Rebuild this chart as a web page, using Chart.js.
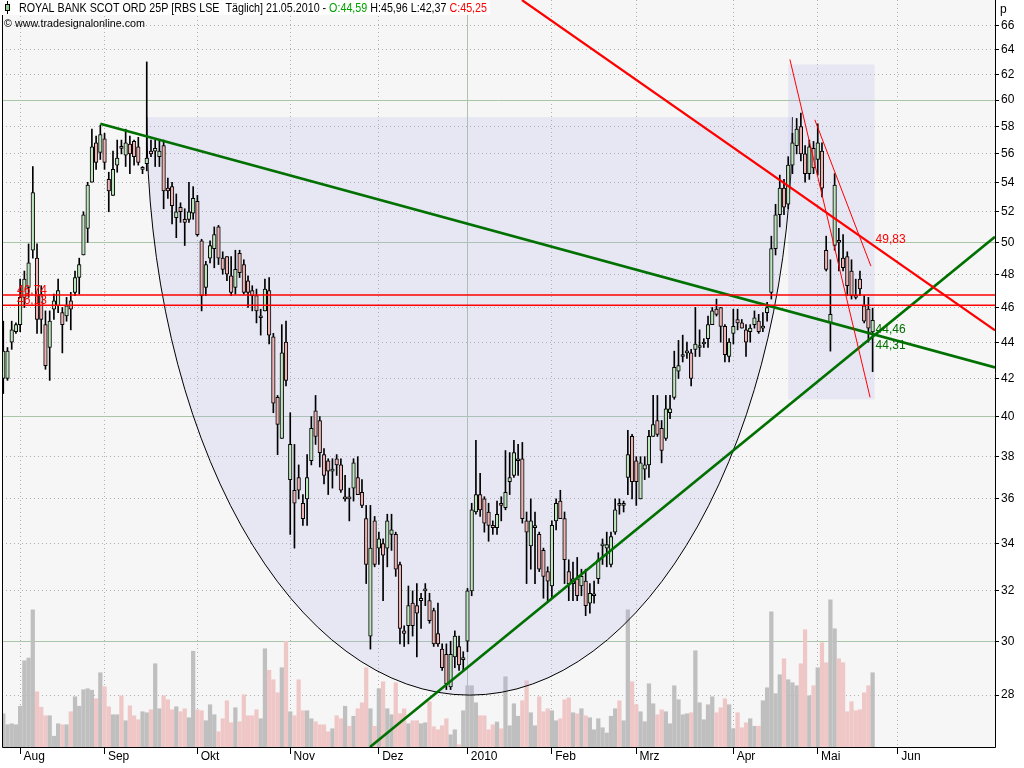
<!DOCTYPE html>
<html>
<head>
<meta charset="utf-8">
<script src="https://cdn.jsdelivr.net/npm/chart.js@4.4.1/dist/chart.umd.min.js"></script>
<style>
  html, body { margin: 0; padding: 0; background: #fff; overflow: hidden; }
</style>
</head>
<body>
<canvas id="chart" width="1024" height="768"></canvas>
<script>
// daily candles, 28.07.2009 .. 21.05.2010 (index = trading day)
const openP = [
  42.0, 42.0, 44.0, 44.6, 45.0, 46.6, 47.2, 49.5, 49.0, 46.8,
  45.0, 43.7, 45.9, 46.1, 45.7, 45.5, 46.4, 46.9, 47.8, 49.2,
  50.9, 54.0, 56.8, 56.1, 57.1, 54.2, 53.1, 55.2, 56.5, 55.9,
  56.7, 56.9, 56.5, 54.9, 55.3, 56.2, 56.2, 55.8, 56.6, 53.6,
  53.7, 51.6, 52.3, 51.5, 51.5, 51.9, 52.7, 50.1, 47.2, 49.0,
  49.6, 51.0, 49.0, 49.1, 47.9, 47.2, 49.3, 48.6, 47.6, 47.0,
  46.7, 45.4, 45.8, 47.0, 44.3, 41.0, 38.9, 44.0, 36.9, 36.4,
  37.0, 35.8, 36.0, 37.8, 40.3, 39.8, 38.1, 37.8, 37.3, 37.9,
  37.6, 36.0, 36.1, 36.5, 37.0, 36.3, 35.1, 30.2, 35.0, 33.8,
  34.0, 33.8, 34.4, 34.4, 33.1, 30.4, 30.6, 31.5, 31.4, 31.6,
  32.0, 31.6, 31.2, 30.3, 29.7, 29.5, 28.3, 29.4, 29.8, 29.3,
  30.0, 32.0, 35.4, 36.2, 36.0, 35.4, 34.8, 34.7, 35.8, 35.6,
  36.8, 37.1, 37.8, 37.9, 35.0, 33.9, 34.7, 34.4, 33.7, 32.8,
  32.2, 35.0, 35.9, 35.1, 32.8, 32.3, 32.5, 32.2, 32.4, 31.5,
  31.8, 32.5, 33.9, 33.8, 33.1, 34.5, 35.8, 35.7, 37.0, 39.0,
  37.8, 36.0, 37.4, 37.6, 39.0, 39.8, 39.4, 38.9, 40.2, 41.0,
  42.4, 43.2, 43.4, 43.4, 43.6, 43.7, 43.9, 44.2, 45.0, 45.9,
  46.0, 44.9, 43.2, 44.5, 45.3, 45.1, 44.7, 44.6, 45.0, 45.2,
  44.8, 45.7, 46.9, 49.6, 51.8, 53.6, 52.5, 55.2, 56.6, 58.0,
  56.0, 54.6, 56.4, 55.6, 56.2, 49.5, 45.1, 49.8, 50.1, 49.0,
  49.1, 48.2, 46.7, 47.7, 46.1, 45.9, 44.59
];
const highP = [
  45.2, 43.7, 45.2, 45.1, 47.7, 48.2, 49.9, 55.1, 49.9, 47.3,
  45.8, 45.8, 46.8, 47.7, 46.0, 46.6, 46.9, 48.2, 49.0, 52.0,
  54.0, 57.8, 57.3, 58.1, 57.5, 54.7, 56.2, 57.0, 57.0, 57.8,
  57.3, 57.0, 57.2, 55.1, 63.0, 57.0, 57.0, 57.0, 57.0, 54.3,
  54.0, 53.2, 52.6, 52.2, 54.0, 53.7, 53.1, 50.2, 48.8, 50.1,
  51.0, 51.1, 49.4, 49.1, 49.1, 49.5, 49.5, 48.9, 47.9, 47.3,
  47.1, 45.9, 47.7, 47.8, 44.5, 41.1, 45.0, 45.2, 40.2, 38.6,
  37.6, 36.2, 38.1, 40.0, 41.1, 40.0, 38.4, 37.9, 37.9, 38.1,
  37.9, 37.1, 36.5, 37.9, 38.0, 36.9, 35.7, 35.7, 35.2, 34.5,
  34.2, 35.3, 35.3, 34.5, 33.2, 30.6, 32.2, 32.0, 32.3, 31.9,
  32.3, 31.9, 31.3, 31.5, 29.9, 29.9, 30.0, 30.4, 30.2, 29.6,
  32.1, 35.8, 38.8, 37.2, 36.1, 35.8, 35.0, 35.9, 36.1, 38.3,
  38.2, 38.8, 38.6, 38.7, 35.4, 36.0, 35.4, 34.5, 33.8, 33.0,
  35.0, 36.0, 36.4, 35.4, 33.3, 33.2, 33.4, 32.9, 32.9, 32.3,
  32.4, 33.6, 34.2, 34.5, 34.5, 36.0, 36.0, 35.9, 39.3, 39.1,
  38.0, 38.0, 38.0, 39.3, 41.1, 41.1, 39.8, 41.1, 41.1, 43.5,
  44.1, 44.4, 44.0, 43.6, 46.0, 44.7, 44.2, 45.5, 46.0, 46.5,
  46.0, 45.0, 44.2, 45.9, 45.9, 45.3, 45.0, 45.0, 45.8, 45.6,
  45.7, 46.3, 50.4, 52.5, 54.5, 54.2, 55.8, 57.5, 58.6, 59.0,
  56.6, 57.0, 56.9, 58.2, 56.8, 50.4, 48.9, 54.6, 50.9, 50.5,
  49.4, 48.9, 47.7, 48.2, 46.7, 46.6, 45.96
];
const lowP = [
  41.2, 41.9, 43.6, 44.5, 44.6, 46.0, 46.6, 49.0, 44.5, 44.5,
  42.5, 41.9, 45.3, 45.7, 43.4, 45.2, 44.7, 46.7, 46.8, 49.2,
  50.0, 54.0, 54.9, 55.6, 54.9, 52.0, 53.1, 54.7, 56.0, 55.1,
  54.6, 55.2, 55.2, 54.6, 54.8, 55.8, 55.1, 55.1, 52.2, 52.9,
  51.2, 50.3, 51.3, 49.8, 51.3, 51.5, 50.4, 45.8, 46.7, 48.7,
  48.4, 48.6, 48.0, 47.6, 46.7, 46.8, 47.8, 46.8, 46.0, 45.8,
  45.1, 44.4, 45.8, 43.9, 40.2, 38.1, 38.9, 41.6, 34.4, 33.8,
  36.0, 34.8, 34.8, 37.6, 38.6, 37.5, 36.7, 36.2, 36.5, 37.1,
  36.3, 35.9, 35.0, 35.9, 36.2, 35.6, 32.3, 29.7, 33.0, 33.1,
  31.6, 33.0, 33.7, 32.6, 29.9, 29.8, 29.9, 30.2, 29.4, 30.5,
  31.4, 30.7, 29.8, 29.8, 28.9, 28.2, 28.2, 29.0, 28.9, 28.9,
  29.6, 31.8, 35.3, 35.2, 34.5, 34.1, 34.4, 34.4, 35.0, 35.5,
  36.2, 37.0, 37.1, 34.9, 32.3, 32.9, 32.3, 32.8, 31.7, 31.6,
  31.7, 34.6, 35.1, 32.3, 31.6, 31.6, 31.6, 31.8, 31.0, 31.1,
  31.5, 32.3, 33.1, 33.0, 33.0, 34.4, 35.3, 35.4, 36.2, 36.0,
  35.7, 36.0, 36.9, 37.0, 39.0, 39.0, 37.7, 38.8, 39.9, 40.9,
  42.0, 42.9, 43.1, 41.6, 43.2, 43.2, 43.7, 43.7, 45.0, 45.5,
  44.0, 42.9, 42.9, 43.9, 44.7, 44.8, 43.2, 44.0, 44.8, 44.5,
  44.6, 45.2, 46.5, 49.2, 51.0, 51.8, 52.2, 54.6, 56.0, 55.5,
  54.0, 54.2, 54.6, 54.5, 53.0, 48.2, 43.5, 49.5, 48.2, 48.2,
  46.7, 46.5, 46.5, 46.7, 45.1, 44.0, 42.37
];
const closeP = [
  43.5, 43.5, 44.7, 45.0, 46.6, 47.7, 48.7, 53.3, 45.3, 45.3,
  42.7, 45.2, 46.4, 47.0, 45.0, 46.1, 45.9, 47.8, 48.6, 51.8,
  53.8, 56.5, 55.4, 57.4, 55.4, 53.4, 54.9, 55.7, 56.4, 56.8,
  56.0, 55.8, 55.4, 54.9, 55.7, 56.0, 56.4, 56.2, 53.4, 53.4,
  52.4, 52.0, 52.0, 51.3, 52.0, 52.9, 50.5, 46.7, 48.6, 49.8,
  50.5, 49.0, 48.3, 48.0, 46.9, 48.3, 48.1, 46.9, 46.9, 46.7,
  45.8, 45.5, 47.1, 44.4, 40.7, 39.6, 43.4, 41.9, 38.6, 35.8,
  36.4, 35.1, 37.0, 39.4, 39.0, 38.2, 37.1, 37.3, 37.3, 37.6,
  36.4, 36.0, 36.0, 37.7, 36.2, 35.7, 33.1, 33.8, 33.1, 34.2,
  33.5, 35.0, 34.6, 32.9, 30.5, 30.3, 31.4, 30.6, 31.1, 31.7,
  32.0, 30.8, 29.9, 29.9, 29.0, 28.4, 29.5, 30.2, 29.1, 29.3,
  32.0, 35.5, 36.2, 35.5, 34.9, 34.8, 34.7, 35.3, 35.7, 36.3,
  37.0, 38.2, 37.8, 35.1, 34.5, 35.0, 34.7, 32.9, 32.6, 32.4,
  34.8, 35.8, 35.1, 33.3, 32.3, 32.5, 31.8, 32.6, 31.4, 31.9,
  31.8, 33.3, 33.9, 33.95, 34.3, 35.5, 35.7, 35.8, 38.1, 36.8,
  36.8, 37.7, 37.6, 39.0, 39.6, 39.1, 38.3, 40.4, 40.4, 42.6,
  42.7, 43.3, 43.5, 42.0, 43.9, 43.8, 44.0, 45.0, 45.8, 45.6,
  44.9, 43.3, 44.0, 44.9, 45.1, 44.8, 44.0, 44.8, 45.4, 44.6,
  44.9, 46.0, 49.6, 51.8, 53.6, 52.3, 55.2, 56.8, 57.8, 56.0,
  54.6, 56.5, 55.0, 56.8, 53.6, 48.3, 45.6, 53.8, 50.0, 48.4,
  47.3, 46.7, 46.6, 47.1, 45.2, 44.8, 45.25
];
// volume, million shares
const volume = [
  133, 89, 93, 89, 163, 345, 356, 549, 221, 159,
  125, 125, 43, 93, 89, 89, 141, 201, 163, 229,
  233, 227, 193, 297, 241, 161, 129, 129, 205, 105,
  165, 125, 109, 141, 137, 149, 333, 153, 205, 189,
  149, 161, 141, 153, 117, 383, 149, 145, 105, 169,
  129, 61, 113, 185, 97, 157, 101, 209, 125, 125,
  149, 113, 393, 307, 269, 217, 317, 423, 141, 125,
  269, 145, 145, 113, 101, 89, 89, 61, 73, 125,
  113, 163, 83, 123, 153, 177, 317, 153, 83, 233,
  261, 153, 129, 257, 133, 153, 93, 105, 105, 93,
  97, 181, 81, 69, 85, 113, 49, 69, 9, 145,
  245, 245, 177, 125, 125, 69, 89, 100, 73, 281,
  85, 173, 123, 185, 265, 137, 85, 201, 141, 153,
  145, 105, 113, 189, 197, 137, 133, 153, 125, 117,
  69, 113, 77, 56, 123, 153, 185, 105, 549, 261,
  169, 141, 101, 253, 173, 129, 149, 141, 93, 245,
  189, 129, 133, 137, 385, 177, 109, 169, 201, 137,
  157, 193, 169, 73, 137, 77, 97, 113, 83, 83,
  185, 237, 541, 213, 289, 353, 269, 257, 245, 333,
  469, 205, 245, 317, 417, 337, 589, 473, 353, 337,
  141, 181, 145, 149, 217, 245, 297
];

const monthLabels = ['Aug', 'Sep', 'Okt', 'Nov', 'Dez', '2010', 'Feb', 'Mrz', 'Apr', 'Mai', 'Jun'];
const monthStart = [4, 24, 46, 68, 89, 110, 130, 150, 173, 193, 212];
const priceTicks = [28, 30, 32, 34, 36, 38, 40, 42, 44, 46, 48, 50, 52, 54, 56, 58, 60, 62, 64, 66];

// drawing tools (index, price)
const greenFalling = [{x: 23, y: 58.2}, {x: 235, y: 42.6}];
const greenRising = [{x: 86.9, y: 26.2}, {x: 235, y: 50.36}];
const redFalling = [{x: 122.9, y: 68.2}, {x: 235, y: 44.67}];
const channelA = [{x: 186.4, y: 63.2}, {x: 205.4, y: 41.0}];
const channelB = [{x: 192.3, y: 58.5}, {x: 205.6, y: 48.5}];
const levels = [46.74, 46.13];
const levelLabels = ['46,74', '46,13'];
const lineLabels = ['49,83', '44,46', '44,31'];
const lineLabelPrices = [49.83, 44.46, 44.31];
// rounding bottom (half ellipse) and May box
const bowl = {from: 34, to: 187, rim: 58.7, bottom: 28.0};
const mayBox = {from: 186, to: 206, top: 62.8, bottom: 40.9};

const FONT = '"Liberation Sans", Arial, sans-serif';
const GREEN = '#007000';
const RED = '#ff0000';
const GRID_SOLID = '#a9c6a9';
const GRID_DOT = '#b0b0b0';

const idx = openP.map((_, i) => i);
const isUp = idx.map(i => closeP[i] >= openP[i]);

function hline(v) { return [{x: -5, y: v}, {x: 240, y: v}]; }
function lineSet(data, color, width) {
  return { type: 'line', data, borderColor: color, borderWidth: width, pointRadius: 0,
    yAxisID: 'y', order: 1, fill: false, tension: 0 };
}
// squeeze text horizontally to a given width (header font is a narrow one)
function fitText(ctx, parts, x, y, width) {
  let total = 0;
  parts.forEach(([t]) => { total += ctx.measureText(t).width; });
  const k = Math.min(1, width / total);
  ctx.save();
  ctx.translate(x, y);
  ctx.scale(k, 1);
  let cx = 0;
  parts.forEach(([t, c]) => {
    ctx.fillStyle = c;
    ctx.fillText(t, cx, 0);
    cx += ctx.measureText(t).width;
  });
  ctx.restore();
}

const decor = {
  id: 'decor',
  beforeDraw(chart) {
    const { ctx, chartArea: a } = chart;
    ctx.save();
    ctx.fillStyle = '#ffffff';
    ctx.fillRect(0, 0, chart.width, chart.height);
    ctx.fillStyle = '#f6f6f6';
    ctx.fillRect(a.left, a.top, a.right - a.left, a.bottom - a.top);
    ctx.restore();
  },
  afterDatasetDraw(chart, args) {
    if (args.index !== 0) return; // right after the volume bars
    const { ctx, chartArea: a } = chart;
    const xs = chart.scales.x, ys = chart.scales.y;
    ctx.save();
    ctx.beginPath();
    ctx.rect(a.left, a.top, a.right - a.left, a.bottom - a.top);
    ctx.clip();
    const x0 = xs.getPixelForValue(bowl.from), x1 = xs.getPixelForValue(bowl.to);
    const yr = ys.getPixelForValue(bowl.rim), yb = ys.getPixelForValue(bowl.bottom);
    ctx.fillStyle = 'rgba(176,176,236,0.22)';
    ctx.beginPath();
    ctx.ellipse((x0 + x1) / 2, yr, (x1 - x0) / 2, yb - yr, 0, 0, Math.PI);
    ctx.closePath();
    ctx.fill();
    ctx.strokeStyle = '#000';
    ctx.lineWidth = 1;
    ctx.beginPath();
    ctx.ellipse((x0 + x1) / 2, yr, (x1 - x0) / 2, yb - yr, 0, 0, Math.PI);
    ctx.stroke();
    const bx0 = xs.getPixelForValue(mayBox.from), bx1 = xs.getPixelForValue(mayBox.to) + 2;
    const by0 = ys.getPixelForValue(mayBox.top), by1 = ys.getPixelForValue(mayBox.bottom);
    ctx.fillRect(bx0, by0, bx1 - bx0, by1 - by0);
    ctx.restore();
  },
  afterDraw(chart) {
    const { ctx, chartArea: a } = chart;
    const xs = chart.scales.x, ys = chart.scales.y;
    ctx.save();
    // frame
    ctx.strokeStyle = '#000';
    ctx.lineWidth = 1;
    ctx.beginPath();
    ctx.moveTo(a.left + 0.5, a.top);
    ctx.lineTo(a.left + 0.5, a.bottom + 0.5);
    ctx.lineTo(a.right + 0.5, a.bottom + 0.5);
    ctx.lineTo(a.right + 0.5, a.top);
    ctx.stroke();

    // level labels, left
    ctx.font = '12px ' + FONT;
    ctx.fillStyle = RED;
    ctx.textBaseline = 'alphabetic';
    levels.forEach((v, i) => {
      ctx.fillText(levelLabels[i], a.left + 15, ys.getPixelForValue(v) - 1);
    });
    // line value labels at last bar
    const lx = xs.getPixelForValue(openP.length - 1) + 3;
    const offs = [-2, -1, 12];
    const cols = [RED, GREEN, GREEN];
    lineLabels.forEach((t, i) => {
      ctx.fillStyle = cols[i];
      ctx.fillText(t, lx, ys.getPixelForValue(lineLabelPrices[i]) + offs[i]);
    });

    // unit
    ctx.fillStyle = '#000';
    ctx.fillText('p', a.right + 5, 13);

    // header
    ctx.fillStyle = '#ffffff';
    ctx.fillRect(0, 0, 490, 15);
    ctx.fillStyle = '#000';
    ctx.fillRect(7, 1, 1, 13);
    ctx.fillRect(5, 4, 5, 7);
    ctx.fillStyle = '#8fd08f';
    ctx.fillRect(6, 5, 3, 5);
    ctx.font = '13px ' + FONT;
    fitText(ctx, [
      ['ROYAL BANK SCOT ORD 25P [RBS LSE  T\u00e4glich] 21.05.2010 - ', '#000'],
      ['O:44,59', '#00a000'],
      [' H:45,96 L:42,37 ', '#000'],
      ['C:45,25', RED]
    ], 19, 12, 468);
    ctx.font = '11px ' + FONT;
    fitText(ctx, [['\u00a9 www.tradesignalonline.com', '#000']], 4, 27, 141);
    ctx.restore();
  }
};

new Chart(document.getElementById('chart'), {
  type: 'bar',
  data: {
    datasets: [
      {
        label: 'Volumen',
        data: idx.map(i => ({ x: i, y: volume[i] })),
        yAxisID: 'yv',
        backgroundColor: idx.map(i => isUp[i] ? '#bfbfbf' : '#efc7c7'),
        barThickness: 3.6,
        grouped: false,
        order: 10
      },
      {
        label: 'Docht',
        data: idx.map(i => ({ x: i, y: [lowP[i], highP[i]] })),
        yAxisID: 'y',
        backgroundColor: '#000',
        barThickness: 1,
        grouped: false,
        order: 5
      },
      {
        label: 'Kerze',
        data: idx.map(i => ({ x: i, y: [Math.min(openP[i], closeP[i]), Math.max(openP[i], closeP[i])] })),
        yAxisID: 'y',
        backgroundColor: idx.map(i => isUp[i] ? '#bfe5bf' : '#ebb3b3'),
        borderColor: '#000',
        borderWidth: 1,
        borderSkipped: false,
        minBarLength: 2,
        barThickness: 3.6,
        grouped: false,
        order: 4
      },
      lineSet(hline(levels[0]), RED, 1.5),
      lineSet(hline(levels[1]), RED, 1.5),
      lineSet(channelA, RED, 1),
      lineSet(channelB, RED, 1),
      lineSet(redFalling, RED, 2.2),
      lineSet(greenFalling, GREEN, 2.6),
      lineSet(greenRising, GREEN, 2.6)
    ]
  },
  options: {
    responsive: false,
    animation: false,
    devicePixelRatio: 1,
    layout: { padding: { left: 2, right: 0, top: 0, bottom: 0 } },
    plugins: { legend: { display: false }, tooltip: { enabled: false } },
    scales: {
      x: {
        type: 'linear',
        min: -0.3,
        max: 235,
        offset: false,
        bounds: 'data',
        afterBuildTicks: s => { s.ticks = monthStart.map(v => ({ value: v })); },
        afterFit: s => { s.height = 21; s.paddingLeft = 0; s.paddingRight = 0; },
        ticks: {
          autoSkip: false,
          maxRotation: 0,
          align: 'start',
          padding: -5,
          color: '#000',
          font: { family: FONT, size: 12 },
          callback: v => ' ' + monthLabels[monthStart.indexOf(v)]
        },
        grid: {
          offset: false,
          color: c => (c.tick && c.tick.value === 110) ? GRID_SOLID : GRID_DOT,
          tickColor: '#000',
          tickLength: 7
        },
        border: { display: false, dash: c => (c.tick && c.tick.value === 110) ? [] : [1, 3] }
      },
      y: {
        type: 'logarithmic',
        position: 'right',
        min: 26.2,
        max: 68.2,
        bounds: 'data',
        afterBuildTicks: s => { s.ticks = priceTicks.map(v => ({ value: v })); },
        afterFit: s => { s.width = 29; s.paddingTop = 0; s.paddingBottom = 0; },
        ticks: {
          autoSkip: false,
          padding: 2,
          color: '#000',
          font: { family: FONT, size: 12 },
          callback: v => String(v)
        },
        grid: {
          color: c => (c.tick && c.tick.value % 10 === 0) ? GRID_SOLID : GRID_DOT,
          tickColor: '#000',
          tickLength: 4
        },
        border: { display: false, dash: c => (c.tick && c.tick.value % 10 === 0) ? [] : [1, 3] }
      },
      yv: {
        type: 'linear',
        display: false,
        min: 0,
        max: 2988,
        afterFit: s => { s.paddingTop = 0; s.paddingBottom = 0; }
      }
    }
  },
  plugins: [decor]
});
</script>
</body>
</html>
